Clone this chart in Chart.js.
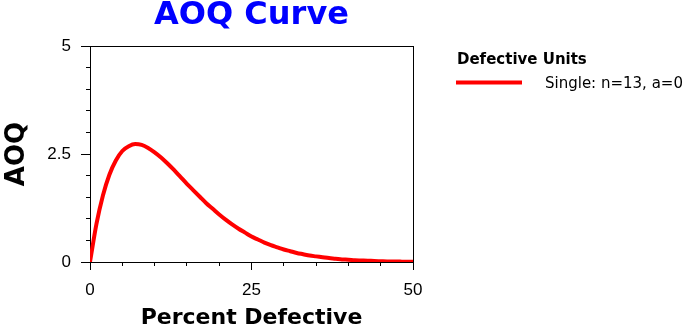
<!DOCTYPE html>
<html>
<head>
<meta charset="utf-8">
<script src="https://cdn.jsdelivr.net/npm/chart.js@4/dist/chart.umd.min.js"></script>
<style>
html,body{margin:0;padding:0;background:#fff;}
#wrap{width:688px;height:329px;position:relative;}
canvas{display:block;}
</style>
</head>
<body>
<div id="wrap"><canvas id="c" width="688" height="329"></canvas></div>
<script>
// ---- data ----
const chartTitle = 'AOQ Curve';
const xTitle = 'Percent Defective';
const yTitle = 'AOQ';
const legendTitle = 'Defective Units';
const seriesLabel = 'Single: n=13, a=0';

const percentDefective = [0,1,2,3,4,5,6,7,8,9,10,11,12,13,14,15,16,17,18,19,20,21,22,23,24,25,26,27,28,29,30,31,32,33,34,35,36,37,38,39,40,41,42,43,44,45,46,47,48,49,50];
const aoqSingle = [0,0.88,1.54,2.02,2.35,2.57,2.68,2.73,2.71,2.64,2.54,2.42,2.28,2.13,1.97,1.81,1.66,1.51,1.36,1.23,1.10,0.98,0.87,0.77,0.68,0.59,0.52,0.45,0.39,0.34,0.29,0.25,0.21,0.18,0.15,0.13,0.11,0.09,0.076,0.06,0.052,0.04,0.035,0.03,0.022,0.018,0.014,0.011,0.009,0.007,0.006];

const xRange = [0, 50];
const yRange = [0, 5];
const xMajorStep = 25, xMinorStep = 5;
const yMajorStep = 2.5, yMinorStep = 0.5;

const BOLD = '"DejaVu Sans", sans-serif';
const TICKF = '"Liberation Sans", Arial, sans-serif';

const sideLegend = {
  id: 'sideLegend',
  afterDraw(chart) {
    const ctx = chart.ctx;
    const ds = chart.data.datasets[0];
    const x0 = chart.chartArea.right + 43;
    ctx.save();
    ctx.textAlign = 'left';
    ctx.textBaseline = 'alphabetic';
    ctx.fillStyle = '#000';
    ctx.font = 'bold 15px ' + BOLD;
    ctx.fillText(legendTitle, x0 + 1, 64);
    ctx.strokeStyle = ds.borderColor;
    ctx.lineWidth = 4;
    ctx.lineCap = 'butt';
    ctx.beginPath();
    ctx.moveTo(x0, 82.5);
    ctx.lineTo(x0 + 66, 82.5);
    ctx.stroke();
    ctx.font = '15px ' + BOLD;
    ctx.fillText(ds.label, x0 + 89, 88);
    ctx.restore();
  }
};

new Chart(document.getElementById('c'), {
  type: 'line',
  data: {
    datasets: [{
      label: seriesLabel,
      data: percentDefective.map((p, i) => ({x: p, y: aoqSingle[i]})),
      borderColor: '#FF0000',
      backgroundColor: '#FF0000',
      borderWidth: 4,
      pointRadius: 0,
      cubicInterpolationMode: 'monotone',
      fill: false,
      xAxisID: 'x',
      yAxisID: 'y'
    }]
  },
  options: {
    responsive: false,
    devicePixelRatio: 1,
    animation: false,
    events: [],
    layout: {padding: {left: 0, right: 275, top: 0, bottom: 0}},
    plugins: {
      legend: {display: false},
      tooltip: {enabled: false},
      title: {
        display: true,
        text: chartTitle,
        color: '#0000FF',
        fullSize: false,
        align: 'center',
        font: {family: BOLD, size: 32, weight: 'bold', lineHeight: 1},
        padding: {top: 0, bottom: 14}
      }
    },
    scales: {
      x: {
        type: 'linear', position: 'bottom', weight: 1,
        min: xRange[0], max: xRange[1],
        afterFit: s => { s.height = 67; },
        ticks: {stepSize: xMajorStep, autoSkip: false, maxRotation: 0, padding: 10, color: '#000',
                font: {family: TICKF, size: 17}},
        grid: {drawOnChartArea: true, drawTicks: true, tickLength: 8, tickColor: '#000', lineWidth: 1,
               color: c => (c.tick && c.tick.value === xRange[1]) ? '#000' : 'rgba(0,0,0,0)'},
        border: {display: true, color: '#000', width: 1},
        title: {display: true, text: xTitle, color: '#000',
                font: {family: BOLD, size: 22, weight: 'bold', lineHeight: 1}, padding: {top: 0, bottom: 0}}
      },
      x2: {
        type: 'linear', position: 'bottom', weight: 0,
        min: xRange[0], max: xRange[1],
        afterFit: s => { s.height = 0; },
        ticks: {display: false, stepSize: xMinorStep, autoSkip: false},
        grid: {drawOnChartArea: false, drawTicks: true, tickLength: 4, tickColor: '#000', lineWidth: 1},
        border: {display: false}
      },
      y: {
        type: 'linear', position: 'left', weight: 1,
        min: yRange[0], max: yRange[1],
        afterFit: s => { s.width = 90; },
        ticks: {stepSize: yMajorStep, autoSkip: false, padding: 10, color: '#000',
                font: {family: TICKF, size: 17}},
        grid: {drawOnChartArea: true, drawTicks: true, tickLength: 9, tickColor: '#000', lineWidth: 1,
               color: c => (c.tick && c.tick.value === yRange[1]) ? '#000' : 'rgba(0,0,0,0)'},
        border: {display: true, color: '#000', width: 1},
        title: {display: true, text: yTitle, color: '#000',
                font: {family: BOLD, size: 26, weight: 'bold', lineHeight: 1}, padding: {top: 4, bottom: 0}}
      },
      y2: {
        type: 'linear', position: 'left', weight: 0,
        min: yRange[0], max: yRange[1],
        afterFit: s => { s.width = 0; },
        ticks: {display: false, stepSize: yMinorStep, autoSkip: false},
        grid: {drawOnChartArea: false, drawTicks: true, tickLength: 4, tickColor: '#000', lineWidth: 1},
        border: {display: false}
      }
    }
  },
  plugins: [sideLegend]
});
</script>
</body>
</html>
